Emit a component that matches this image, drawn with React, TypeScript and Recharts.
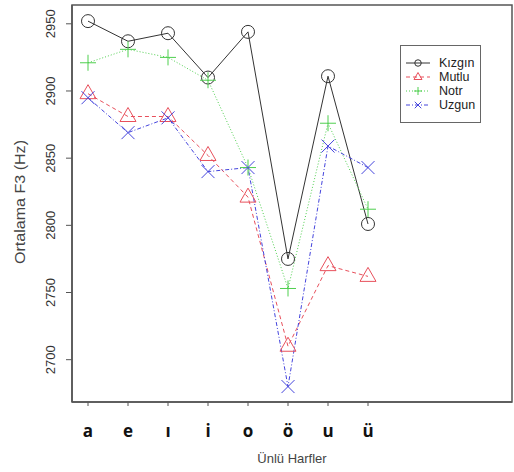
import React from "react";
import { LineChart, Line, XAxis, YAxis } from "recharts";

// Vowels on the x axis and mean F3 (Hz) per emotion
const vowels = ["a", "e", "ı", "i", "o", "ö", "u", "ü"];
const kizgin = [2952, 2937, 2943, 2910, 2944, 2775, 2911, 2801];
const mutlu = [2898, 2881, 2881, 2852, 2821, 2710, 2770, 2762];
const notr = [2921, 2931, 2925, 2908, 2843, 2753, 2876, 2812];
const uzgun = [2895, 2869, 2880, 2840, 2843, 2680, 2859, 2843];
const yTicks = [2700, 2750, 2800, 2850, 2900, 2950];

const X_DOMAIN: [number, number] = [0.6, 11.6];
const Y_DOMAIN: [number, number] = [2668.5, 2964];

const data = vowels.map((v, i) => ({
  x: i + 1,
  Kızgın: kizgin[i],
  Mutlu: mutlu[i],
  Notr: notr[i],
  Uzgun: uzgun[i],
}));

const COLORS = {
  Kızgın: "#333333",
  Mutlu: "#e8505c",
  Notr: "#4fcf4f",
  Uzgun: "#4444dd",
};

const DASH = {
  Kızgın: undefined,
  Mutlu: "4 3",
  Notr: "1 2",
  Uzgun: "4 2 1 2",
};

const FONT = "'Liberation Sans', Arial, sans-serif";
const BOX = "#555";

type Shape = "circle" | "triangle" | "plus" | "cross";

function Marker({ shape, cx, cy, color, s = 1 }: { shape: Shape; cx: number; cy: number; color: string; s?: number }) {
  if (cx == null || cy == null) return null;
  if (shape === "circle") {
    return <circle cx={cx} cy={cy} r={6.5 * s} fill="none" stroke={color} strokeWidth={1} />;
  }
  if (shape === "triangle") {
    const pts = `${cx},${cy - 9 * s} ${cx - 8 * s},${cy + 5 * s} ${cx + 8 * s},${cy + 5 * s}`;
    return <polygon points={pts} fill="none" stroke={color} strokeWidth={1} />;
  }
  if (shape === "plus") {
    const d = 8 * s;
    return (
      <g stroke={color} strokeWidth={1}>
        <line x1={cx - d} y1={cy} x2={cx + d} y2={cy} />
        <line x1={cx} y1={cy - d} x2={cx} y2={cy + d} />
      </g>
    );
  }
  const d = 6.5 * s;
  return (
    <g stroke={color} strokeWidth={1}>
      <line x1={cx - d} y1={cy - d} x2={cx + d} y2={cy + d} />
      <line x1={cx - d} y1={cy + d} x2={cx + d} y2={cy - d} />
    </g>
  );
}

const series: { key: keyof typeof COLORS; shape: Shape }[] = [
  { key: "Kızgın", shape: "circle" },
  { key: "Mutlu", shape: "triangle" },
  { key: "Notr", shape: "plus" },
  { key: "Uzgun", shape: "cross" },
];

function XTick({ x, payload }: any) {
  return (
    <text x={x} y={437} textAnchor="middle" fontFamily="'Open Sans', sans-serif" fontWeight={700} fontSize={17} fill="#111">
      {vowels[payload.value - 1]}
    </text>
  );
}

function YTick({ y, payload }: any) {
  return (
    <text x={55} y={y} transform={`rotate(-90, 55, ${y})`} textAnchor="middle" fontFamily={FONT} fontSize={13} fill="#333">
      {payload.value}
    </text>
  );
}

// legend box, placed over the top-right of the plot like R's legend()
function LegendBox() {
  return (
    <div
      style={{
        position: "absolute",
        left: 400,
        top: 45,
        width: 81,
        height: 78,
        border: "1px solid #666",
        boxSizing: "border-box",
        paddingTop: 10,
        fontFamily: FONT,
        fontSize: 12.5,
        color: "#222",
        background: "#fff",
      }}
    >
      {series.map((s) => (
        <div key={s.key} style={{ display: "flex", alignItems: "center", height: 14 }}>
          <svg width={36} height={14} style={{ flex: "none" }}>
            <line x1={5} y1={7} x2={29} y2={7} stroke={COLORS[s.key]} strokeDasharray={DASH[s.key]} />
            <Marker shape={s.shape} cx={17} cy={7} color={COLORS[s.key]} s={0.5} />
          </svg>
          <span style={{ marginLeft: 2 }}>{s.key}</span>
        </div>
      ))}
    </div>
  );
}

export default function App() {
  return (
    <div style={{ position: "absolute", left: 0, top: 0, width: 514, height: 472, background: "#fff" }}>
      <LineChart width={514} height={472} data={data} margin={{ top: 5, right: 2, bottom: 0, left: 0 }}>
        <XAxis
          type="number"
          dataKey="x"
          domain={X_DOMAIN}
          allowDataOverflow
          ticks={[1, 2, 3, 4, 5, 6, 7, 8]}
          height={70}
          tickSize={4}
          stroke={BOX}
          axisLine={{ stroke: BOX, strokeWidth: 1.5 }}
          tickLine={{ stroke: BOX }}
          tick={<XTick />}
          label={{
            content: () => (
              <text x={292} y={463} textAnchor="middle" fontFamily={FONT} fontSize={13} fill="#444">
                Ünlü Harfler
              </text>
            ),
          }}
        />
        <YAxis
          type="number"
          domain={Y_DOMAIN}
          allowDataOverflow
          ticks={yTicks}
          width={72}
          tickSize={6}
          stroke={BOX}
          axisLine={{ stroke: BOX, strokeWidth: 1.5 }}
          tickLine={{ stroke: BOX }}
          tick={<YTick />}
          label={{
            content: () => (
              <text
                x={25}
                y={202}
                transform="rotate(-90, 25, 202)"
                textAnchor="middle"
                fontFamily={FONT}
                fontSize={14}
                textLength={124}
                lengthAdjust="spacingAndGlyphs"
                fill="#444"
              >
                Ortalama F3 (Hz)
              </text>
            ),
          }}
        />
        {series.map((s) => (
          <Line
            key={s.key}
            dataKey={s.key}
            stroke={COLORS[s.key]}
            strokeWidth={1}
            strokeDasharray={DASH[s.key]}
            isAnimationActive={false}
            dot={(p: any) => <Marker key={`${s.key}-${p.index}`} shape={s.shape} cx={p.cx} cy={p.cy} color={COLORS[s.key]} />}
            activeDot={false}
          />
        ))}
      </LineChart>
      {/* plot frame (the R box() around the plotting region) */}
      <svg
        width={514}
        height={472}
        style={{ position: "absolute", left: 0, top: 0, pointerEvents: "none" }}
      >
        <rect x={72} y={5} width={440} height={397} fill="none" stroke={BOX} strokeWidth={1.5} />
      </svg>
      <LegendBox />
    </div>
  );
}
